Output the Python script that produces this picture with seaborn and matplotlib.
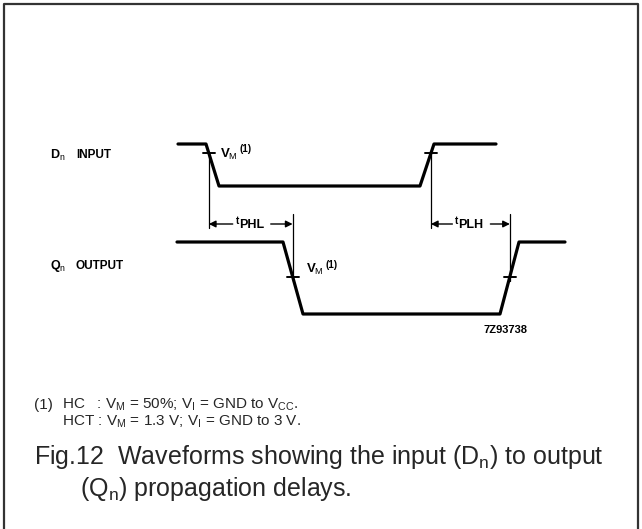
import numpy as np
import seaborn as sns
import matplotlib.pyplot as plt

# waveform breakpoints (time axis in drawing units) and logic levels
d_time = [178, 206, 219, 420, 434, 496]
d_level = [1, 1, 0, 0, 1, 1]
q_time = [177, 283, 303, 500, 519, 565]
q_level = [1, 1, 0, 0, 1, 1]

# V_M crossing level on each trace (fraction of swing)
d_vm = 0.78
q_vm = 0.52

trace_names = ["D$_{\\rm n}$", "Q$_{\\rm n}$"]
trace_kinds = ["INPUT", "OUTPUT"]
delay_labels = ["PHL", "PLH"]
code = "7Z93738"
note_lines = ["HC   : V$_{\\rm M}$ = 50%; V$_{\\rm I}$ = GND to V$_{\\rm CC}$.",
              "HCT : V$_{\\rm M}$ = 1.3 V; V$_{\\rm I}$ = GND to 3 V."]
caption_lines = ["Fig.12  Waveforms showing the input (D$_{\\rm n}$) to output",
                 "(Q$_{\\rm n}$) propagation delays."]

sns.set_style("white")
plt.rcParams['font.family'] = ['Liberation Sans', 'DejaVu Sans']
plt.rcParams['mathtext.fontset'] = 'custom'
plt.rcParams['mathtext.rm'] = 'Liberation Sans'
plt.rcParams['mathtext.it'] = 'Liberation Sans:italic'
plt.rcParams['mathtext.bf'] = 'Liberation Sans:bold'

fig = plt.figure(figsize=(6.42, 5.29), dpi=100)
ax = fig.add_axes([0, 0, 1, 1])
ax.set_xlim(0, 642)
ax.set_ylim(529, 0)
ax.axis('off')

# row layout: y of low level, swing height
d_low, d_swing = 186, 42
q_low, q_swing = 314, 72

d_y = [d_low - d_swing * v for v in d_level]
q_y = [q_low - q_swing * v for v in q_level]
sns.lineplot(x=d_time, y=d_y, sort=False, estimator=None, color='black', lw=2.3, ax=ax)
sns.lineplot(x=q_time, y=q_y, sort=False, estimator=None, color='black', lw=2.3, ax=ax)


def crossing(t, lv, i, frac):
    # time where edge between breakpoints i and i+1 passes frac of the swing
    return t[i] + (t[i + 1] - t[i]) * (frac - lv[i]) / (lv[i + 1] - lv[i])


d_fall = crossing(d_time, d_level, 1, d_vm)
d_rise = crossing(d_time, d_level, 3, d_vm)
q_fall = crossing(q_time, q_level, 1, q_vm)
q_rise = crossing(q_time, q_level, 3, q_vm)
d_vy = d_low - d_swing * d_vm
q_vy = q_low - q_swing * q_vm

lab = dict(color='black', fontweight='bold', family=['Liberation Sans'])

# V_M ticks
for x, y in [(d_fall, d_vy), (d_rise, d_vy), (q_fall, q_vy), (q_rise, q_vy)]:
    ax.plot([x - 6, x + 6], [y, y], color='black', lw=1.4)

# reference lines and delay arrows
arrow_y = 224
for x0, x1, name in [(d_fall, q_fall, delay_labels[0]), (d_rise, q_rise, delay_labels[1])]:
    ax.plot([x0, x0], [d_vy, arrow_y + 4], color='black', lw=0.9)
    ax.plot([x1, x1], [arrow_y - 10, q_vy + 4], color='black', lw=0.9)
    xm = (x0 + x1) / 2
    ax.text(xm - 12, arrow_y - 3, "t", ha='right', va='center', fontsize=7, **lab)
    ax.text(xm - 12, arrow_y + 1, name, ha='left', va='center', fontsize=9, **lab)
    ax.annotate('', xy=(x0, arrow_y), xytext=(xm - 18, arrow_y),
                arrowprops=dict(arrowstyle='-|>', color='black', lw=1.0,
                                mutation_scale=10, shrinkA=0, shrinkB=0))
    ax.annotate('', xy=(x1, arrow_y), xytext=(xm + 20, arrow_y),
                arrowprops=dict(arrowstyle='-|>', color='black', lw=1.0,
                                mutation_scale=10, shrinkA=0, shrinkB=0))

# V_M labels
for x, y in [(d_fall + 11, d_vy), (q_fall + 13, q_vy - 8)]:
    ax.text(x, y + 1, "V$_{\\rm M}$", ha='left', va='center', fontsize=9.5, **lab)
    ax.text(x + 20, y - 4, "(1)", ha='left', va='center', fontsize=7, **lab)

# trace names
for y, nm, kind in [(155, trace_names[0], trace_kinds[0]), (266, trace_names[1], trace_kinds[1])]:
    ax.text(50, y, nm, ha='left', va='center', fontsize=9, **lab)
    ax.text(76, y, kind, ha='left', va='center', fontsize=8.5, **lab)

ax.text(528, 330, code, ha='right', va='center', fontsize=8, **lab)

# footnote and caption
ax.text(34, 405, "(1)", ha='left', va='center', fontsize=11)
ax.text(62, 405, note_lines[0], ha='left', va='center', fontsize=11)
ax.text(62, 422, note_lines[1], ha='left', va='center', fontsize=11)
ax.text(34, 457, caption_lines[0], ha='left', va='center', fontsize=18)
ax.text(80, 489, caption_lines[1], ha='left', va='center', fontsize=18)

# frame
ax.plot([4, 4, 638, 638], [529, 4, 4, 529], color='#333333', lw=1.6)

fig.savefig('out.png', dpi=100)
